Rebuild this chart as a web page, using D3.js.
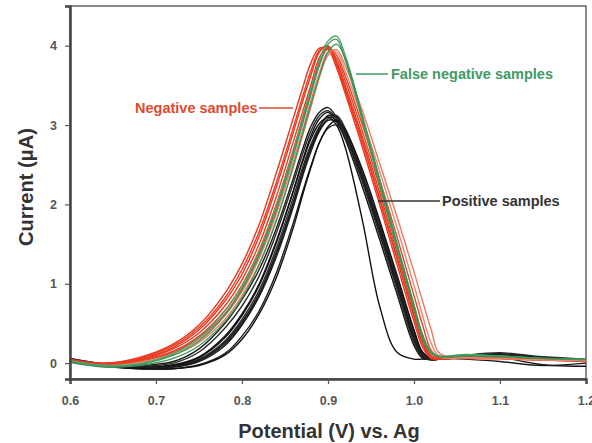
<!DOCTYPE html>
<html>
<head>
<meta charset="utf-8">
<script src="https://cdn.jsdelivr.net/npm/d3@7"></script>
<style>
  body { margin: 0; background: #fff; }
  svg { display: block; font-family: "Liberation Sans", Arial, sans-serif; }
</style>
</head>
<body>
<div id="chart"></div>
<script>
  // Potential (V) sample points shared by every scan
  const potentials = [0.60, 0.64, 0.68, 0.72, 0.75, 0.78, 0.80, 0.82, 0.84, 0.86, 0.87, 0.88, 0.89,
    0.90, 0.91, 0.92, 0.94, 0.96, 0.98, 1.00, 1.01, 1.02, 1.03, 1.06, 1.10, 1.15, 1.20];

  // Current (uA), one array per scan
  const positiveSamples = [
    [0.06, -0.01, -0.03, 0.02, 0.18, 0.50, 0.80, 1.18, 1.70, 2.34, 2.68, 2.98, 3.16, 3.22, 3.10, 2.90, 2.32, 1.66, 0.98, 0.30, 0.08, 0.05, 0.06, 0.09, 0.12, 0.07, 0.04],
    [0.04, -0.03, -0.06, -0.04, 0.05, 0.28, 0.55, 0.92, 1.45, 2.10, 2.45, 2.75, 2.98, 3.10, 3.06, 2.88, 2.32, 1.68, 1.00, 0.32, 0.08, 0.05, 0.06, 0.09, 0.11, 0.06, 0.03],
    [0.05, -0.02, -0.05, -0.03, 0.07, 0.32, 0.60, 0.98, 1.52, 2.18, 2.54, 2.86, 3.08, 3.16, 3.04, 2.82, 2.22, 1.56, 0.88, 0.22, 0.06, 0.05, 0.06, 0.08, 0.10, 0.05, 0.03],
    [0.03, -0.04, -0.07, -0.07, -0.02, 0.12, 0.34, 0.66, 1.14, 1.78, 2.14, 2.48, 2.78, 2.96, 3.00, 2.88, 2.38, 1.76, 1.08, 0.40, 0.12, 0.05, 0.05, 0.08, 0.10, 0.06, 0.03],
    [0.04, -0.03, -0.06, -0.05, 0.03, 0.24, 0.50, 0.86, 1.38, 2.02, 2.38, 2.70, 2.94, 3.08, 3.12, 2.96, 2.40, 1.74, 1.04, 0.36, 0.10, 0.04, 0.05, 0.07, 0.09, 0.05, 0.03],
    [0.05, -0.02, -0.05, -0.02, 0.08, 0.34, 0.62, 1.00, 1.54, 2.18, 2.52, 2.82, 3.02, 3.10, 3.00, 2.72, 1.80, 0.72, 0.14, 0.05, 0.05, 0.05, 0.06, 0.08, 0.07, -0.02, -0.04],
    [0.03, -0.04, -0.06, -0.05, 0.02, 0.22, 0.48, 0.84, 1.34, 1.98, 2.34, 2.66, 2.92, 3.06, 3.04, 2.86, 2.30, 1.66, 0.98, 0.30, 0.07, 0.04, 0.05, 0.08, 0.10, 0.06, 0.04],
    [0.06, -0.01, -0.04, 0.00, 0.14, 0.44, 0.72, 1.10, 1.64, 2.28, 2.62, 2.92, 3.12, 3.18, 3.08, 2.86, 2.28, 1.62, 0.94, 0.26, 0.07, 0.05, 0.06, 0.10, 0.13, 0.08, 0.05],
    [0.04, -0.03, -0.07, -0.07, -0.03, 0.10, 0.30, 0.62, 1.08, 1.72, 2.10, 2.46, 2.78, 2.98, 3.06, 2.94, 2.44, 1.80, 1.12, 0.42, 0.14, 0.06, 0.05, 0.07, 0.09, 0.05, 0.03],
    [0.05, -0.02, -0.05, -0.04, 0.04, 0.26, 0.52, 0.88, 1.40, 2.04, 2.40, 2.72, 2.96, 3.12, 3.10, 2.92, 2.36, 1.70, 1.02, 0.34, 0.09, 0.05, 0.06, 0.05, 0.02, -0.03, 0.00]
  ];

  const negativeSamples = [
    [0.05, 0.00, 0.07, 0.24, 0.48, 0.88, 1.25, 1.75, 2.40, 3.10, 3.45, 3.78, 3.97, 3.95, 3.72, 3.40, 2.72, 2.00, 1.25, 0.52, 0.20, 0.06, 0.05, 0.07, 0.06, 0.04, 0.02],
    [0.03, -0.01, 0.04, 0.18, 0.38, 0.72, 1.05, 1.50, 2.10, 2.80, 3.15, 3.50, 3.85, 3.98, 3.80, 3.50, 2.85, 2.15, 1.40, 0.65, 0.30, 0.08, 0.06, 0.08, 0.07, 0.05, 0.03],
    [0.02, -0.02, 0.03, 0.15, 0.34, 0.66, 0.98, 1.42, 2.00, 2.70, 3.06, 3.42, 3.78, 3.96, 3.84, 3.56, 2.92, 2.22, 1.48, 0.72, 0.35, 0.10, 0.07, 0.09, 0.08, 0.05, 0.03],
    [0.04, 0.00, 0.05, 0.20, 0.42, 0.78, 1.12, 1.60, 2.22, 2.92, 3.28, 3.62, 3.92, 4.00, 3.78, 3.46, 2.80, 2.08, 1.34, 0.60, 0.26, 0.07, 0.06, 0.08, 0.07, 0.05, 0.03],
    [0.01, -0.03, 0.00, 0.10, 0.26, 0.55, 0.85, 1.25, 1.80, 2.48, 2.85, 3.22, 3.60, 3.88, 3.95, 3.75, 3.18, 2.52, 1.85, 1.15, 0.78, 0.42, 0.12, 0.06, 0.05, 0.04, 0.03],
    [0.03, -0.02, 0.02, 0.14, 0.32, 0.62, 0.94, 1.38, 1.96, 2.66, 3.02, 3.40, 3.76, 3.97, 3.88, 3.62, 3.00, 2.32, 1.60, 0.85, 0.48, 0.16, 0.07, 0.08, 0.06, 0.04, 0.02],
    [0.04, -0.01, 0.06, 0.22, 0.45, 0.82, 1.18, 1.66, 2.28, 2.98, 3.34, 3.68, 3.94, 3.99, 3.76, 3.44, 2.78, 2.06, 1.32, 0.58, 0.24, 0.06, 0.05, 0.07, 0.06, 0.04, 0.03],
    [0.02, -0.03, 0.01, 0.12, 0.30, 0.60, 0.90, 1.32, 1.88, 2.56, 2.92, 3.30, 3.66, 3.92, 3.92, 3.68, 3.08, 2.42, 1.72, 0.98, 0.60, 0.25, 0.08, 0.07, 0.06, 0.04, 0.03]
  ];

  const falseNegativeSamples = [
    [0.02, -0.04, -0.02, 0.10, 0.28, 0.60, 0.92, 1.35, 1.92, 2.62, 3.00, 3.38, 3.75, 4.02, 4.08, 3.82, 3.05, 2.25, 1.45, 0.68, 0.30, 0.12, 0.08, 0.10, 0.09, 0.06, 0.04],
    [0.03, -0.03, -0.01, 0.12, 0.32, 0.66, 0.98, 1.42, 2.00, 2.70, 3.08, 3.46, 3.82, 4.06, 4.12, 3.88, 3.12, 2.32, 1.52, 0.74, 0.36, 0.14, 0.09, 0.11, 0.09, 0.06, 0.05],
    [0.01, -0.05, -0.03, 0.06, 0.22, 0.52, 0.82, 1.24, 1.80, 2.50, 2.88, 3.26, 3.62, 3.92, 4.02, 3.84, 3.10, 2.30, 1.50, 0.72, 0.34, 0.13, 0.08, 0.09, 0.08, 0.06, 0.05]
  ];

  const xTicks = [0.6, 0.7, 0.8, 0.9, 1.0, 1.1, 1.2];
  const yTicks = [0, 1, 2, 3, 4];

  const width = 592;
  const height = 443;
  const margin = { top: 6, right: 6, bottom: 64, left: 70 };

  const svg = d3.select("#chart")
    .append("svg")
    .attr("width", width)
    .attr("height", height);

  const x = d3.scaleLinear()
    .domain([0.6, 1.2])
    .range([margin.left, width - margin.right]);

  const y = d3.scaleLinear()
    .domain([-0.2, 4.5])
    .range([height - margin.bottom, margin.top]);

  const line = d3.line()
    .x(function (d, i) { return x(potentials[i]); })
    .y(function (d) { return y(d); })
    .curve(d3.curveCatmullRom.alpha(0.5));

  // Plot frame
  svg.append("rect")
    .attr("x", x(0.6))
    .attr("y", y(4.5))
    .attr("width", x(1.2) - x(0.6))
    .attr("height", y(-0.2) - y(4.5))
    .attr("fill", "none")
    .attr("stroke", "#666")
    .attr("stroke-width", 1.5);

  const plot = svg.append("g");

  const drawGroup = function (rows, colors, widthPx) {
    plot.append("g")
      .selectAll("path")
      .data(rows)
      .enter()
      .append("path")
      .attr("d", line)
      .attr("fill", "none")
      .attr("stroke", function (d, i) { return colors[i % colors.length]; })
      .attr("stroke-width", widthPx);
  };

  drawGroup(positiveSamples, ["#1c1c1c", "#2b2b2b", "#111"], 1.4);
  drawGroup(negativeSamples, ["#e8361f", "#ec3a1e", "#e5412a", "#ea3420", "#ea7b62", "#e2432c", "#ee3b1f", "#e9856c"], 1.4);
  drawGroup(falseNegativeSamples, ["#3f9a5f", "#4aa36a", "#3c9158"], 1.3);

  // Axes
  const xAxis = svg.append("g")
    .attr("transform", `translate(0, ${y(-0.2)})`)
    .call(d3.axisBottom(x).tickValues(xTicks).tickSize(5).tickPadding(12).tickFormat(d3.format(".1f")));

  const yAxis = svg.append("g")
    .attr("transform", `translate(${x(0.6)}, 0)`)
    .call(d3.axisLeft(y).tickValues(yTicks).tickSize(5).tickPadding(8).tickFormat(d3.format("d")));

  [xAxis, yAxis].forEach(function (ax) {
    ax.select(".domain").attr("stroke", "#444").attr("stroke-width", 2.5);
    ax.selectAll(".tick line").attr("stroke", "#555").attr("stroke-width", 1.2);
    ax.selectAll(".tick text")
      .attr("fill", "#555")
      .attr("font-size", "12.5px")
      .attr("font-weight", "bold")
      .attr("font-family", "'Liberation Sans', Arial, sans-serif");
  });

  // Axis titles
  svg.append("text")
    .attr("x", 329)
    .attr("y", 438)
    .attr("text-anchor", "middle")
    .attr("font-size", "20px")
    .attr("font-weight", "bold")
    .attr("fill", "#333")
    .text("Potential (V) vs. Ag");

  svg.append("text")
    .attr("transform", "translate(33, 187) rotate(-90)")
    .attr("text-anchor", "middle")
    .attr("font-size", "20px")
    .attr("font-weight", "bold")
    .attr("fill", "#333")
    .text("Current (μA)");

  // Annotations with leader lines
  const labels = [
    { text: "Negative samples", color: "#e04a2e", tx: 135, ty: 108, x1: 259, x2: 293 },
    { text: "False negative samples", color: "#3f9a63", tx: 391, ty: 74, x1: 356, x2: 388 },
    { text: "Positive samples", color: "#333", tx: 442, ty: 201, x1: 378, x2: 440 }
  ];

  labels.forEach(function (l) {
    svg.append("line")
      .attr("x1", l.x1)
      .attr("x2", l.x2)
      .attr("y1", l.ty)
      .attr("y2", l.ty)
      .attr("stroke", l.color)
      .attr("stroke-width", 1.5);
    svg.append("text")
      .attr("x", l.tx)
      .attr("y", l.ty)
      .attr("dy", "0.35em")
      .attr("font-size", "14.5px")
      .attr("font-weight", "bold")
      .attr("fill", l.color)
      .text(l.text);
  });
</script>
</body>
</html>
